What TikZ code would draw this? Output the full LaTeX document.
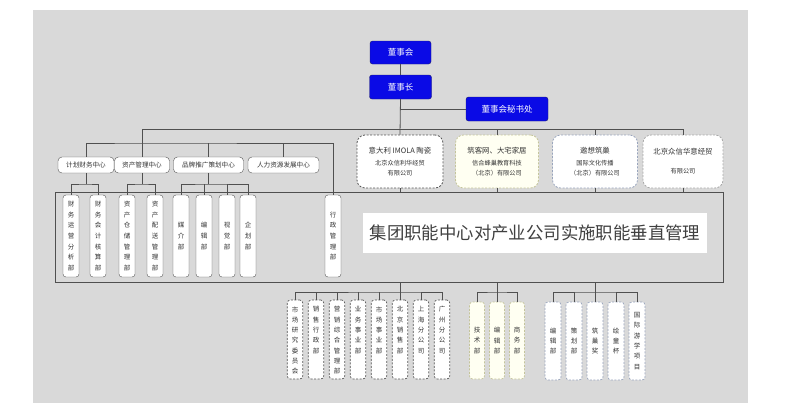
\documentclass[tikz,border=0pt]{standalone}
\usepackage{fontspec}
\setmainfont{Noto Sans CJK SC}
\definecolor{bgc}{HTML}{D9D9D9}
\definecolor{lnc}{HTML}{505050}
\definecolor{bluef}{HTML}{0A0AE6}
\definecolor{bluedk}{HTML}{1A1A70}
\definecolor{txt}{HTML}{333333}
\definecolor{ivory}{HTML}{FFFFF2}
\definecolor{olived}{HTML}{C4C49A}
\definecolor{bluegr}{HTML}{98A4BC}
\definecolor{grayd}{HTML}{A8A8A8}
\definecolor{darkd}{HTML}{555555}
\tikzset{
  ln/.style={draw=lnc, line width=0.8pt},
  bluebox/.style={draw=bluedk, fill=bluef, rounded corners=2.5pt, text=white, inner sep=0pt,
     font=\fontsize{8.5}{10}\selectfont},
  ctrbox/.style={draw=darkd, fill=white, rounded corners=4pt, text=txt, inner sep=0pt,
     minimum height=16pt, font=\fontsize{6.6}{8}\selectfont},
  cobox/.style={rounded corners=8pt, dash pattern=on 2pt off 1.5pt, line width=0.8pt, text=txt,
     inner sep=0pt, minimum height=53pt, align=center, font=\fontsize{6.2}{10}\selectfont},
  vup/.style={draw=darkd, fill=white, rounded corners=3pt, text=txt, inner sep=0pt,
     minimum width=16pt, minimum height=82pt, align=center, font=\fontsize{6.5}{10.6}\selectfont},
  vlow/.style={rounded corners=3pt, dash pattern=on 2pt off 1.5pt, line width=0.7pt, text=txt, inner sep=0pt,
     minimum width=15.5pt, align=center, font=\fontsize{6.5}{10.3}\selectfont},
  ve/.style={vlow, draw=darkd, fill=white, minimum height=79pt},
  vf/.style={vlow, draw=olived, fill=ivory, minimum height=77pt, minimum width=15pt},
  vh/.style={vlow, draw=bluegr, fill=white, minimum height=78pt, minimum width=16pt},
}
\newcommand{\topv}[1]{\parbox[c][66pt][t]{12pt}{\centering #1}}
\begin{document}
\begin{tikzpicture}[x=1pt,y=-1pt]
\useasboundingbox (0,0) rectangle (800,413);
\fill[bgc] (33,10) rectangle (748,403);

% big frame and slogan
\node[draw=lnc, line width=0.8pt, minimum width=668pt, minimum height=90pt, inner sep=0pt] (big) at (389,237) {};
\node[fill=white, minimum width=344pt, minimum height=40pt, inner sep=0pt, text={rgb,255:red,64;green,64;blue,64},
  font=\fontsize{17.4}{20}\selectfont] (slogan) at (535,233) {集团职能中心对产业公司实施职能垂直管理};

% top
\node[bluebox, minimum width=61pt, minimum height=23pt] (dsh) at (400.5,52.5) {董事会};
\node[bluebox, minimum width=62pt, minimum height=24pt] (dsz) at (400.5,87) {董事长};
\node[bluebox, minimum width=82pt, minimum height=24pt] (msc) at (507,109) {董事会秘书处};

% centers
\node[ctrbox, minimum width=56pt] (c1) at (86,165) {计划财务中心};
\node[ctrbox, minimum width=55pt] (c2) at (142,165) {资产管理中心};
\node[ctrbox, minimum width=70pt] (c3) at (208.5,165) {品牌推广策划中心};
\node[ctrbox, minimum width=71pt] (c4) at (283.5,165) {人力资源发展中心};

% companies
\node[cobox, draw=darkd, fill=white, minimum width=86pt] (co1) at (400,161.5)
  {{\fontsize{7.4}{9}\selectfont 意大利 IMOLA 陶瓷}\\[2pt]北京众信利华经贸\\有限公司};
\node[cobox, draw=olived, fill=ivory, minimum width=83pt] (co2) at (497,161.5)
  {{\fontsize{7.4}{9}\selectfont 筑客网、大宅家居}\\[2pt]信合蜂巢教育科技\\（北京）有限公司};
\node[cobox, draw=bluegr, fill=white, minimum width=85pt] (co3) at (595,161.5)
  {{\fontsize{7.4}{9}\selectfont 邀想筑巢}\\[2pt]国际文化传播\\（北京）有限公司};
\node[cobox, draw=grayd, fill=white, minimum width=80pt] (co4) at (683,161.5)
  {{\fontsize{7.4}{9}\selectfont 北京众信华意经贸}\\[9pt]有限公司};

% upper vertical boxes
\node[vup] (d1) at (71,236) {财\\务\\运\\营\\分\\析\\部};
\node[vup] (d2) at (98,236) {财\\务\\会\\计\\核\\算\\部};
\node[vup] (d3) at (127,236) {资\\产\\仓\\储\\管\\理\\部};
\node[vup] (d4) at (155,236) {资\\产\\配\\送\\管\\理\\部};
\node[vup] (d5) at (181,236) {媒\\介\\部};
\node[vup] (d6) at (204,236) {编\\辑\\部};
\node[vup] (d7) at (227,236) {视\\觉\\部};
\node[vup] (d8) at (248,236) {企\\划\\部};
\node[vup] (hz) at (333,236) {行\\政\\管\\理\\部};

% lower boxes
\node[ve] (e1) at (295,339.5) {\topv{市\\场\\研\\究\\委\\员\\会}};
\node[ve] (e2) at (316,339.5) {\topv{销\\售\\行\\政\\部}};
\node[ve] (e3) at (337,339.5) {\topv{营\\销\\综\\合\\管\\理\\部}};
\node[ve] (e4) at (358,339.5) {\topv{业\\务\\事\\业\\部}};
\node[ve] (e5) at (379,339.5) {\topv{市\\场\\事\\业\\部}};
\node[ve] (e6) at (400,339.5) {\topv{北\\京\\销\\售\\部}};
\node[ve] (e7) at (421,339.5) {\topv{上\\海\\分\\公\\司}};
\node[ve] (e8) at (442,339.5) {\topv{广\\州\\分\\公\\司}};

\node[vf] (f1) at (477,340.5) {技\\术\\部};
\node[vf] (f2) at (497,340.5) {编\\辑\\部};
\node[vf] (f3) at (517,340.5) {商\\务\\部};

\node[vh] (h1) at (553,341) {编\\辑\\部};
\node[vh] (h2) at (574,341) {策\\划\\部};
\node[vh] (h3) at (595,341) {筑\\巢\\奖};
\node[vh] (h4) at (616,341) {绘\\童\\杯};
\node[vh] (h5) at (637,341) {国\\际\\游\\学\\项\\目};

% connectors top
\coordinate (g1) at (142,129);
\coordinate (g2) at (142,143);
\draw[ln] (dsh) -- (dsz);
\draw[ln] (dsz.south) |- (msc.west);
\draw[ln] (dsz.south) -- (co1.north);
\draw[ln] (g1) -| (co4.north);
\draw[ln] (co2.north) -- (co2.north |- g1);
\draw[ln] (co3.north) -- (co3.north |- g1);
\draw[ln] (g1) -- (c2.north);
\draw[ln] (c1.north) |- (g2) -| (hz.north);
\draw[ln] (c3.north) -- (c3.north |- g2);
\draw[ln] (c4.north) -- (c4.north |- g2);

% centers to departments
\coordinate (k1) at (86,184);
\coordinate (k2) at (142,184);
\coordinate (k3) at (208.5,184);
\draw[ln] (c1.south) -- (k1);
\draw[ln] (d1.north) |- (k1) -| (d2.north);
\draw[ln] (c2.south) -- (k2);
\draw[ln] (d3.north) |- (k2) -| (d4.north);
\draw[ln] (c3.south) -- (k3);
\draw[ln] (d5.north) |- (k3) -| (d8.north);
\draw[ln] (d6.north) -- (d6.north |- k3);
\draw[ln] (d7.north) -- (d7.north |- k3);

% companies to frame
\foreach \c in {co1,co2,co3,co4} \draw[ln] (\c.south) -- (\c.south |- big.north);

% frame to lower units
\coordinate (m1) at (400,292);
\coordinate (m2) at (497,292);
\coordinate (m3) at (595,292);
\draw[ln] (m1 |- big.south) -- (m1);
\draw[ln] (e1.north) |- (m1) -| (e8.north);
\foreach \e in {e2,e3,e4,e5,e6,e7} \draw[ln] (\e.north) -- (\e.north |- m1);
\draw[ln] (m2 |- big.south) -- (m2);
\draw[ln] (f1.north) |- (m2) -| (f3.north);
\draw[ln] (f2.north) -- (m2);
\draw[ln] (m3 |- big.south) -- (m3);
\draw[ln] (h1.north) |- (m3) -| (h5.north);
\foreach \h in {h2,h3,h4} \draw[ln] (\h.north) -- (\h.north |- m3);
\end{tikzpicture}
\end{document}
